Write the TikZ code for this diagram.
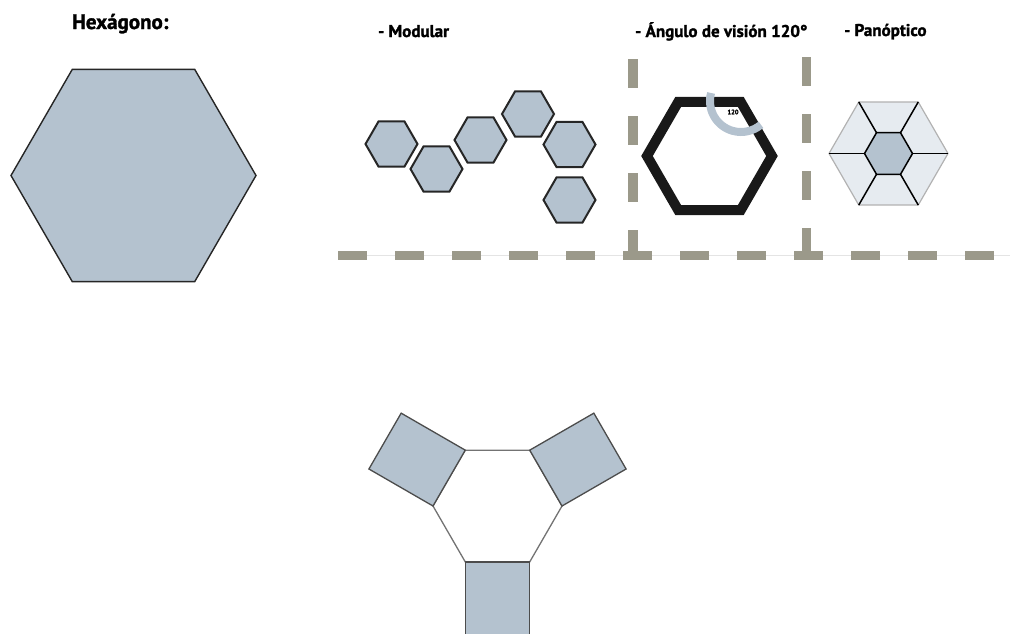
\documentclass[tikz,border=0pt]{standalone}
\usepackage{fontspec}
\setmainfont{PT Sans}
\newfontfamily\headfont[FakeBold=1.5]{PT Sans}
\usepackage{tikz}
\definecolor{hexfill}{HTML}{B4C2CF}
\definecolor{panfill}{HTML}{E6EBF0}
\definecolor{dashgray}{HTML}{9B998A}
\definecolor{guide}{HTML}{E4E4E4}

\begin{document}
\begin{tikzpicture}[x=1pt,y=-1pt,
   title/.style={anchor=base west,inner sep=0pt,font=\headfont\bfseries\fontsize{21}{21}\selectfont},
   subtitle/.style={anchor=base west,inner sep=0pt,font=\headfont\bfseries\fontsize{17}{17}\selectfont},
   bighex/.style={fill=hexfill,draw=black!85,line width=1.4pt},
   modhex/.style={fill=hexfill,draw=black!85,line width=2pt},
   viewhex/.style={draw=black!90,line width=10pt,line join=miter},
   viewarc/.style={draw=hexfill,line width=8pt},
   panout/.style={fill=panfill,draw=black!30,line width=1.2pt},
   panin/.style={fill=hexfill,draw=black,line width=1.5pt},
   spoke/.style={draw=black,line width=1.5pt},
   guideln/.style={draw=guide,line width=1pt},
   dashln/.style={draw=dashgray,line width=9.5pt,dash pattern=on 28.5pt off 28.5pt},
   corehex/.style={fill=white,draw=black!55,line width=1.3pt},
   armrect/.style={fill=hexfill,draw=black!70,line width=1.3pt}]
   \useasboundingbox (0,0) rectangle (1010,633);
   \clip (0,0) rectangle (1010,633);

   % titles
   \node[title] (tHex) at (72,29) {Hexágono:};
   \node[subtitle] (tMod) at (378,37) {- Modular};
   \node[subtitle] (tAng) at (635,37) {- Ángulo de visión 120°};
   \node[subtitle] (tPan) at (844,36) {- Panóptico};

   % big hexagon
   \draw[bighex] (133.5,175.5) +(0:122.5) \foreach \a in {60,120,...,300}{ -- +(\a:122.5)} -- cycle;

   % modular
   \foreach \c in {(391.5,144),(436.5,169),(480.5,140),(528,114),(569.5,144.5),(569.5,200)}
      \draw[modhex] \c +(0:26) \foreach \a in {60,120,...,300}{ -- +(\a:26)} -- cycle;

   % dashed guides
   \draw[guideln] (338,255.5) -- (1010,255.5);
   \draw[dashln] (338,255.5) -- (1010,255.5);
   \draw[dashln] (633,59) -- (633,255);
   \draw[dashln] (806.5,57) -- (806.5,255);

   % angle of view
   \draw[viewhex] (709.5,156) +(0:62.5) \foreach \a in {60,120,...,300}{ -- +(\a:62.5)} -- cycle;
   \draw[viewarc] (741,101) ++(195:31) arc[start angle=195,end angle=50,radius=31];
   \node[inner sep=0pt,font=\headfont\bfseries\fontsize{6.5}{6.5}\selectfont] (n120) at (733,112) {120};

   % panoptic
   \draw[panout] (888.5,153.5) +(0:59.5) \foreach \a in {60,120,...,300}{ -- +(\a:59.5)} -- cycle;
   \foreach \a in {0,60,...,300}
      \draw[spoke] (888.5,153.5) ++(\a:24) -- ++(\a:35.5);
   \draw[panin] (888.5,153.5) +(0:24) \foreach \a in {60,120,...,300}{ -- +(\a:24)} -- cycle;

   % hexagon with arms
   \draw[corehex] (497.5,506) +(0:64.5) \foreach \a in {60,120,...,300}{ -- +(\a:64.5)} -- cycle;
   \foreach \t in {90,210,330}
      \draw[armrect] (497.5,506) ++(\t-30:64.5) -- ++(\t+90:64.5) -- ++(\t:74) -- ++(\t-90:64.5) -- cycle;
\end{tikzpicture}
\end{document}
